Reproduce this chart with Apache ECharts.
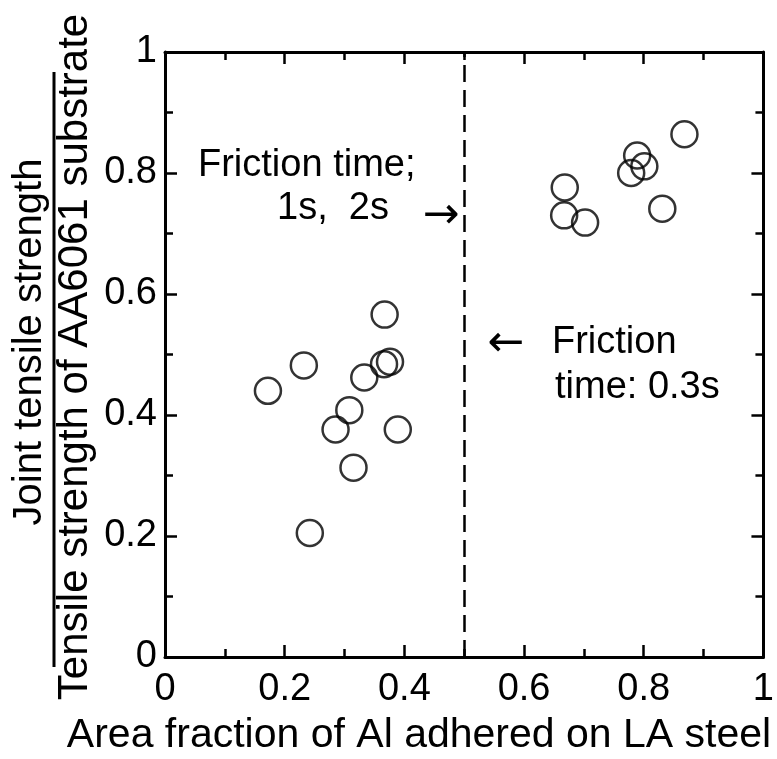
<!DOCTYPE html>
<html>
<head>
<meta charset="utf-8">
<script src="https://cdn.jsdelivr.net/npm/echarts@6/dist/echarts.min.js"></script>
<style>
html,body{margin:0;padding:0;background:#fff;}
#chart{width:777px;height:759px;}
</style>
</head>
<body>
<div id="chart"></div>
<script>
// Area fraction of Al adhered on LA steel (x) vs normalized joint strength (y)
const areaFraction = [0.172, 0.232, 0.242, 0.285, 0.308, 0.315, 0.333, 0.367, 0.366, 0.376, 0.389,
                      0.668, 0.667, 0.702, 0.779, 0.789, 0.801, 0.831, 0.868];
const strengthRatio = [0.440, 0.482, 0.205, 0.376, 0.408, 0.313, 0.462, 0.566, 0.484, 0.488, 0.376,
                       0.776, 0.730, 0.718, 0.800, 0.829, 0.811, 0.741, 0.864];
const xTickLabels = ['0', '0.2', '0.4', '0.6', '0.8', '1'];
const yTickLabels = ['0', '0.2', '0.4', '0.6', '0.8', '1'];
const dividerX = 0.5;

const FONT = 'Liberation Sans, Arial, sans-serif';
const points = areaFraction.map((x, i) => [x, strengthRatio[i]]);

function tickFmt(labels) {
  return function (v) {
    const idx = Math.round(v / 0.2);
    return labels[idx] !== undefined ? labels[idx] : '';
  };
}

const axisCommon = {
  type: 'value', min: 0, max: 1, interval: 0.2,
  axisLine: { show: true, onZero: false, lineStyle: { color: '#000', width: 3 } },
  axisTick: { show: true, inside: true, length: 12, lineStyle: { color: '#000', width: 2.5 } },
  minorTick: { show: true, splitNumber: 2, length: 8, lineStyle: { color: '#000', width: 2.5 } },
  splitLine: { show: false },
  minorSplitLine: { show: false }
};

const chart = echarts.init(document.getElementById('chart'), null, { renderer: 'canvas' });
chart.setOption({
  animation: false,
  backgroundColor: '#fff',
  grid: { left: 165, right: 6, top: 52, bottom: 102, containLabel: false },
  xAxis: [
    Object.assign({}, axisCommon, {
      position: 'bottom',
      axisLabel: { show: true, color: '#000', fontFamily: FONT, fontSize: 38, margin: 14, formatter: tickFmt(xTickLabels) }
    }),
    Object.assign({}, axisCommon, { position: 'top', axisLabel: { show: false } })
  ],
  yAxis: [
    Object.assign({}, axisCommon, {
      position: 'left',
      axisLabel: { show: true, color: '#000', fontFamily: FONT, fontSize: 38, margin: 8, formatter: tickFmt(yTickLabels) }
    }),
    Object.assign({}, axisCommon, { position: 'right', axisLabel: { show: false } })
  ],
  series: [{
    type: 'scatter',
    xAxisIndex: 0, yAxisIndex: 0,
    data: points,
    symbol: 'circle',
    symbolSize: 26,
    itemStyle: { color: 'rgba(255,255,255,0)', borderColor: '#000', borderWidth: 2.5 },
    markLine: {
      silent: true,
      symbol: ['none', 'none'],
      label: { show: false },
      lineStyle: { color: '#000', width: 2.5, type: [17, 8] },
      data: [{ xAxis: dividerX }]
    }
  }],
  graphic: [
    // y-axis label: fraction
    { type: 'text', x: 30, y: 342, rotation: Math.PI / 2,
      style: { text: 'Joint tensile strength', fontFamily: FONT, fontSize: 40, fill: '#000', align: 'center', verticalAlign: 'middle' } },
    { type: 'line', shape: { x1: 54, y1: 72, x2: 54, y2: 667 }, style: { stroke: '#000', lineWidth: 3 } },
    { type: 'text', x: 75, y: 357, rotation: Math.PI / 2,
      style: { text: 'Tensile strength of AA6061 substrate', fontFamily: FONT, fontSize: 42, fill: '#000', align: 'center', verticalAlign: 'middle' } },
    // x-axis label
    { type: 'text', x: 419, y: 736,
      style: { text: 'Area fraction of Al adhered on LA steel', fontFamily: FONT, fontSize: 41, fill: '#000', align: 'center', verticalAlign: 'middle' } },
    // annotations
    { type: 'text', x: 198, y: 166,
      style: { text: 'Friction time;', fontFamily: FONT, fontSize: 38, fill: '#000', align: 'left', verticalAlign: 'middle' } },
    { type: 'text', x: 277, y: 209,
      style: { text: '1s,  2s', fontFamily: FONT, fontSize: 38, fill: '#000', align: 'left', verticalAlign: 'middle' } },
    { type: 'text', x: 441, y: 217,
      style: { text: '\u2192', fontFamily: 'DejaVu Sans', fontSize: 44, fill: '#000', align: 'center', verticalAlign: 'middle' } },
    { type: 'text', x: 506, y: 345,
      style: { text: '\u2190', fontFamily: 'DejaVu Sans', fontSize: 44, fill: '#000', align: 'center', verticalAlign: 'middle' } },
    { type: 'text', x: 552, y: 343,
      style: { text: 'Friction', fontFamily: FONT, fontSize: 38, fill: '#000', align: 'left', verticalAlign: 'middle' } },
    { type: 'text', x: 555, y: 388,
      style: { text: 'time: 0.3s', fontFamily: FONT, fontSize: 38, fill: '#000', align: 'left', verticalAlign: 'middle' } }
  ]
});
</script>
</body>
</html>
